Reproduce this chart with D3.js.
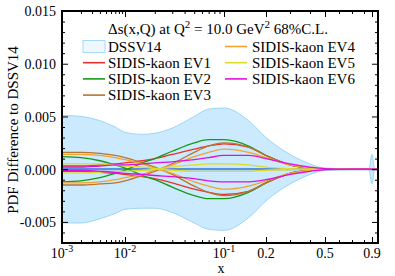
<!DOCTYPE html>
<html><head><meta charset="utf-8">
<script src="https://cdn.jsdelivr.net/npm/d3@7"></script>
<style>
body{margin:0;background:#fff}
text{font-family:"Liberation Serif","Times New Roman",serif;fill:#000}
</style>
</head><body>
<svg id="c" width="395" height="276"></svg>
<script>
// ---------------- data ----------------
const xs = [0.001,0.002,0.004,0.007,0.01,0.015,0.02,0.03,0.05,0.07,0.1,0.15,0.2,0.3,0.4,0.5,0.7,1.0];

const bandX  = [0.001,0.002,0.004,0.007,0.01,0.015,0.02,0.03,0.05,0.07,0.1,0.15,0.2,0.3,0.4,0.5,0.7,0.86,0.9,0.94,1.0];
const bandHi = [0.0051,0.0050,0.0046,0.0040,0.0035,0.0033,0.0034,0.0039,0.0050,0.0057,0.0058,0.0046,0.0030,0.0014,0.0005,0.0001,0.00003,0.00004,0.0014,0.00004,0.00003];
const bandLo = [-0.0051,-0.0051,-0.0047,-0.0042,-0.0038,-0.0037,-0.0037,-0.0041,-0.0051,-0.0057,-0.0058,-0.0046,-0.0030,-0.0014,-0.0005,-0.0001,-0.00003,-0.00004,-0.0014,-0.00004,-0.00003];

const ev1p = [0.0003,0.0003,0.0004,0.0005,0.0006,0.0008,0.0010,0.0014,0.0019,0.0022,0.0024,0.0021,0.0013,0.0004,0.0001,0.00002,0,0];
const ev1m = [-0.0002,-0.0002,-0.0003,-0.0004,-0.0005,-0.0007,-0.0009,-0.0013,-0.0019,-0.0022,-0.0024,-0.0021,-0.0013,-0.0004,-0.0001,-0.00002,0,0];
const ev2p = [0.0012,0.0011,0.0008,0.0004,0.0001,-0.0006,-0.0010,-0.0017,-0.0025,-0.0028,-0.0028,-0.0022,-0.0013,-0.0004,-0.0001,-0.00002,0,0];
const ev2m = [-0.0012,-0.0011,-0.0008,-0.0004,-0.0001,0.0006,0.0010,0.0017,0.0025,0.0028,0.0028,0.0022,0.0013,0.0004,0.0001,0.00002,0,0];
const ev3p = [0.0016,0.0016,0.0015,0.0013,0.0011,0.0006,0.0002,-0.0005,-0.0016,-0.0022,-0.0025,-0.0021,-0.0013,-0.0004,-0.0001,-0.00002,0,0];
const ev3m = [-0.0015,-0.0015,-0.0014,-0.0013,-0.0011,-0.0006,-0.0002,0.0005,0.0016,0.0022,0.0025,0.0021,0.0013,0.0004,0.0001,0.00002,0,0];
const ev4p = [0.0014,0.0014,0.0013,0.0011,0.0009,0.0005,0.0001,-0.0004,-0.0012,-0.0016,-0.0019,-0.0016,-0.0011,-0.0004,-0.0001,-0.00002,0,0];
const ev4m = [-0.0013,-0.0013,-0.0012,-0.0010,-0.0008,-0.0005,-0.0001,0.0004,0.0012,0.0016,0.0019,0.0016,0.0011,0.0004,0.0001,0.00002,0,0];
const ev5p = [0.0005,0.0005,0.0005,0.0004,0.0003,0.0002,0.00005,-0.0001,-0.0002,-0.0002,-0.0002,-0.0002,-0.0001,-0.00003,0,0,0,0];
const ev5m = [-0.00035,-0.00035,-0.0003,-0.0002,-0.0002,-0.0001,-0.00003,0.0002,0.0004,0.0005,0.0005,0.0004,0.0002,0.00005,0,0,0,0];
const ev6p = [0.0002,0.0002,0.0003,0.0004,0.0004,0.0005,0.0006,0.0007,0.0009,0.0011,0.0013,0.0013,0.0010,0.0005,0.0002,0.00005,0,0];
const ev6m = [-0.0001,-0.0001,-0.0002,-0.0003,-0.0004,-0.0005,-0.0006,-0.0007,-0.0009,-0.0011,-0.0012,-0.0012,-0.0010,-0.0005,-0.0002,-0.00005,0,0];

const evNames = ["SIDIS-kaon EV1","SIDIS-kaon EV2","SIDIS-kaon EV3","SIDIS-kaon EV4","SIDIS-kaon EV5","SIDIS-kaon EV6"];
const evSeries = [[ev1p,ev1m],[ev2p,ev2m],[ev3p,ev3m],[ev4p,ev4m],[ev5p,ev5m],[ev6p,ev6m]];

const yMajor = [-0.005,0,0.005,0.010,0.015];
const xMajor = [0.001,0.01,0.1,0.2,0.5,0.9];
const xMajorLabels = [["10","-3"],["10","-2"],["10","-1"],["0.2",""],["0.5",""],["0.9",""]];
const xMinor = [0.002,0.003,0.004,0.005,0.006,0.007,0.008,0.009,0.02,0.03,0.04,0.05,0.06,0.07,0.08,0.09,0.3,0.4,0.6,0.7,0.8];

// ---------------- styles / layout ----------------
const evColors = ["#e8322e","#169a16","#b8752e","#f2a330","#dcdc2a","#e010e0"];
const L=62, R=378, T=11, B=243;
const xAnchorV = [0.001,0.01,0.1,0.2,0.3,0.4,0.5,0.6,0.7,0.8,0.9,1.0];
const xAnchorP = [62,125,224,266,290,310,325,339,352,364,372,378];

const svg = d3.select("#c");
const xl = d3.scaleLinear().domain(xAnchorV.map(Math.log10)).range(xAnchorP);
const x = v => xl(Math.log10(v));
const y = d3.scaleLinear().domain([-0.007,0.015]).range([B,T]);

svg.append("defs").append("clipPath").attr("id","clip")
  .append("rect").attr("x",L).attr("y",T).attr("width",R-L).attr("height",B-T);
const g = svg.append("g").attr("clip-path","url(#clip)");

// band
const band = bandX.map((v,i)=>({x:v,hi:bandHi[i],lo:bandLo[i]}));
g.append("path").datum(band)
  .attr("d", d3.area().x(d=>x(d.x)).y0(d=>y(d.lo)).y1(d=>y(d.hi)).curve(d3.curveMonotoneX))
  .attr("fill","#cbeafd");
["hi","lo"].forEach(k=>{
  g.append("path").datum(band)
   .attr("d", d3.line().x(d=>x(d.x)).y(d=>y(d[k])).curve(d3.curveMonotoneX))
   .attr("fill","none").attr("stroke","#9dd6f6").attr("stroke-width",1);
});
// central line
g.append("line").attr("x1",x(0.001)).attr("x2",x(1.0)).attr("y1",y(0)).attr("y2",y(0))
  .attr("stroke","#5a8fe6").attr("stroke-width",2.2);

// eigenvector curves
const line = d3.line().x((d,i)=>x(xs[i])).y(d=>y(d)).curve(d3.curveMonotoneX);
evSeries.forEach((pair,k)=>{
  pair.forEach(arr=>{
    g.append("path").datum(arr).attr("d",line)
     .attr("fill","none").attr("stroke",evColors[k]).attr("stroke-width",1.3);
  });
});

// axes ticks
function styleAxis(sel){ sel.select(".domain").remove(); sel.selectAll("line").attr("stroke","#000").attr("stroke-width",1); }
const xMajL = xMajor.map(Math.log10), xMinL = xMinor.map(Math.log10);
svg.append("g").attr("transform",`translate(0,${B})`).call(d3.axisBottom(xl).tickValues(xMajL).tickSize(-6).tickFormat("")).call(styleAxis);
svg.append("g").attr("transform",`translate(0,${B})`).call(d3.axisBottom(xl).tickValues(xMinL).tickSize(-3).tickFormat("")).call(styleAxis);
svg.append("g").attr("transform",`translate(0,${T})`).call(d3.axisTop(xl).tickValues(xMajL).tickSize(-6).tickFormat("")).call(styleAxis);
svg.append("g").attr("transform",`translate(0,${T})`).call(d3.axisTop(xl).tickValues(xMinL).tickSize(-3).tickFormat("")).call(styleAxis);

const yMinor = d3.range(-7,16).map(v=>v/1000).filter(v=>!yMajor.some(m=>Math.abs(m-v)<1e-9));
const fmt = v => (Math.abs(v)<1e-12?0:v).toFixed(3);
const yl = svg.append("g").attr("transform",`translate(${L},0)`)
  .call(d3.axisLeft(y).tickValues(yMajor).tickSize(-6).tickPadding(6).tickFormat(fmt)).call(styleAxis);
yl.selectAll("text").attr("font-family","'Liberation Serif',serif").attr("font-size",14).attr("dy","0.35em");
yl.attr("font-family",null);
svg.append("g").attr("transform",`translate(${L},0)`).call(d3.axisLeft(y).tickValues(yMinor).tickSize(-3).tickFormat("")).call(styleAxis);
svg.append("g").attr("transform",`translate(${R},0)`).call(d3.axisRight(y).tickValues(yMajor).tickSize(-6).tickFormat("")).call(styleAxis);
svg.append("g").attr("transform",`translate(${R},0)`).call(d3.axisRight(y).tickValues(yMinor).tickSize(-3).tickFormat("")).call(styleAxis);

// x tick labels
xMajor.forEach((v,i)=>{
  const t = svg.append("text").attr("x",x(v)).attr("y",258).attr("text-anchor","middle").attr("font-size",14);
  t.append("tspan").text(xMajorLabels[i][0]);
  if(xMajorLabels[i][1]) t.append("tspan").attr("dy",-6).attr("font-size",10).text(xMajorLabels[i][1]);
});

// frame
svg.append("rect").attr("x",L).attr("y",T).attr("width",R-L).attr("height",B-T)
  .attr("fill","none").attr("stroke","#000").attr("stroke-width",2);

// axis titles
svg.append("text").attr("x",221).attr("y",273).attr("text-anchor","middle").attr("font-size",14).text("x");
svg.append("text").attr("transform","translate(18,130) rotate(-90)").attr("text-anchor","middle")
  .attr("font-size",15).text("PDF Difference to DSSV14");

// title
const tt = svg.append("text").attr("x",108).attr("y",34).attr("font-size",15);
tt.append("tspan").text("\u0394s(x,Q) at Q");
tt.append("tspan").attr("dy",-6).attr("font-size",11).text("2");
tt.append("tspan").attr("dy",6).text(" = 10.0 GeV");
tt.append("tspan").attr("dy",-6).attr("font-size",11).text("2");
tt.append("tspan").attr("dy",6).text(" 68%C.L.");

// legend
const rowY = i => 51.5 + i*16.2;
svg.append("rect").attr("x",83).attr("y",rowY(0)-11).attr("width",22).attr("height",12)
  .attr("fill","#eef8fe").attr("stroke","#a6daf7").attr("stroke-width",1);
svg.append("text").attr("x",108).attr("y",rowY(0)).attr("font-size",15).text("DSSV14");
evNames.forEach((n,k)=>{
  const col = k<3?0:1, row = k<3?k+1:k-3;
  const sx = col===0?83:225, tx = col===0?108:252;
  svg.append("line").attr("x1",sx).attr("x2",sx+22).attr("y1",rowY(row)-5).attr("y2",rowY(row)-5)
    .attr("stroke",evColors[k]).attr("stroke-width",1.6);
  svg.append("text").attr("x",tx).attr("y",rowY(row)).attr("font-size",15).text(n);
});
</script>
</body></html>
